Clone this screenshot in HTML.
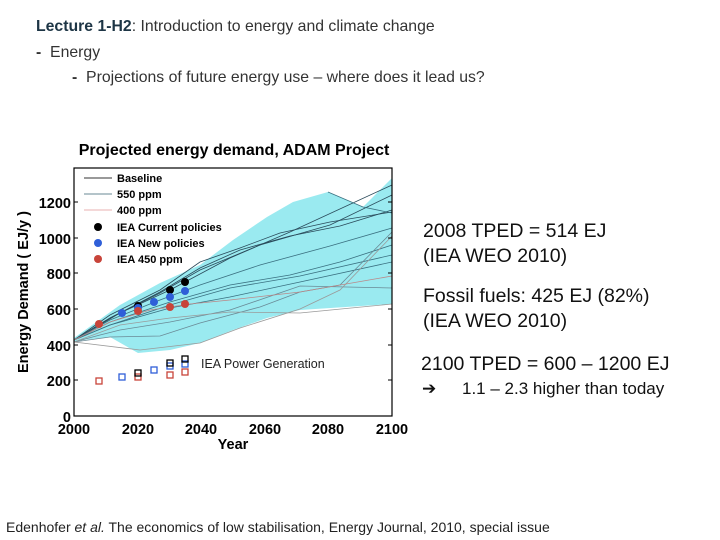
<!DOCTYPE html>
<html><head><meta charset="utf-8"><style>
body{margin:0;width:720px;height:540px;background:#fff;overflow:hidden;position:relative;font-family:"Liberation Sans",sans-serif}
.t{position:absolute;white-space:nowrap;color:#222}
</style></head><body>
<div class="t" style="left:36px;top:18px;font-size:15.8px;color:#333"><b style="color:#1d3545">Lecture 1-H2</b>: Introduction to energy and climate change</div>
<div class="t" style="left:36px;top:44px;font-size:15.8px;color:#333"><b>-</b>&nbsp; Energy</div>
<div class="t" style="left:72px;top:69px;font-size:15.8px;color:#333"><b>-</b>&nbsp; Projections of future energy use – where does it lead us?</div>
<svg width="720" height="540" style="position:absolute;left:0;top:0" font-family="Liberation Sans,sans-serif">
<text x="234" y="155" font-size="16" font-weight="bold" text-anchor="middle">Projected energy demand, ADAM Project</text>
<polygon fill="#9aeaf0" points="74,338 120,305 160,283 200,265 233,240 267,217 293,202 328,192 363,207 392,178 392,304 300,310 267,318 233,330 200,343 170,350 138,353 110,337 83,340 74,342"/>
<g fill="none" stroke-width="0.8">
<polyline stroke="#2a4a5a" points="74,340 110,315 160,290 200,262 240,248 280,233 330,222 392,212"/>
<polyline stroke="#2a4a5a" points="74,340 110,318 160,292 200,268 240,250 290,236 340,226 392,210"/>
<polyline stroke="#2a4a5a" points="74,340 110,318 160,293 200,270 260,245 330,225 392,195"/>
<polyline stroke="#2a4a5a" points="74,340 120,313 170,290 230,258 290,232 392,185"/>
<polyline stroke="#3a7080" points="74,340 110,320 160,300 200,285 260,265 330,246 392,228"/>
<polyline stroke="#3a7080" points="74,340 110,322 170,302 230,285 290,275 340,262 392,245"/>
<polyline stroke="#3a7080" points="74,340 110,325 170,305 230,288 300,276 392,255"/>
<polyline stroke="#3a7080" points="74,340 110,325 170,308 230,297 300,282 392,262"/>
<polyline stroke="#6a8a96" points="74,342 100,335 120,330 170,322 230,310 300,286 392,288"/>
<polyline stroke="#6a8a96" points="74,342 110,337 160,336 200,323 260,307 300,292 340,285 392,232"/>
<polyline stroke="#9a9a9a" points="74,342 120,325 170,318 230,312 300,313 392,304"/>
<polyline stroke="#9a9a9a" points="74,342 140,350 200,343 240,328 300,309 340,290 392,236"/>
<polyline stroke="#b88" points="74,340 110,322 150,310 190,304 230,300 300,292 392,276"/>
<polyline stroke="#3a7080" points="328,192 363,207 392,213"/>
</g>
<rect x="74" y="168" width="318" height="248" fill="none" stroke="#000" stroke-width="1.2"/>
<g stroke="#000" stroke-width="1">
<line x1="74" y1="202" x2="78" y2="202"/><line x1="74" y1="238" x2="78" y2="238"/><line x1="74" y1="273" x2="78" y2="273"/><line x1="74" y1="309" x2="78" y2="309"/><line x1="74" y1="345" x2="78" y2="345"/><line x1="74" y1="380" x2="78" y2="380"/>
<line x1="388" y1="202" x2="392" y2="202"/><line x1="388" y1="238" x2="392" y2="238"/><line x1="388" y1="273" x2="392" y2="273"/><line x1="388" y1="309" x2="392" y2="309"/><line x1="388" y1="345" x2="392" y2="345"/><line x1="388" y1="380" x2="392" y2="380"/>
</g>
<g font-size="14.5" font-weight="bold" text-anchor="end">
<text x="71" y="208">1200</text><text x="71" y="244">1000</text><text x="71" y="279">800</text><text x="71" y="315">600</text><text x="71" y="351">400</text><text x="71" y="386">200</text><text x="71" y="422">0</text>
</g>
<g font-size="14.5" font-weight="bold" text-anchor="middle">
<text x="74" y="434">2000</text><text x="138" y="434">2020</text><text x="201" y="434">2040</text><text x="265" y="434">2060</text><text x="328" y="434">2080</text><text x="392" y="434">2100</text>
<text x="233" y="449">Year</text>
<text transform="translate(28,292) rotate(-90)">Energy Demand ( EJ/y )</text>
</g>
<g font-size="11" font-weight="bold">
<line x1="84" y1="178" x2="112" y2="178" stroke="#333"/><text x="117" y="182">Baseline</text>
<line x1="84" y1="194" x2="112" y2="194" stroke="#6a8a96"/><text x="117" y="198">550 ppm</text>
<line x1="84" y1="210" x2="112" y2="210" stroke="#e8b0b0"/><text x="117" y="214">400 ppm</text>
<circle cx="98" cy="227" r="4" fill="#000"/><text x="117" y="231">IEA Current policies</text>
<circle cx="98" cy="243" r="4" fill="#2f5fd8"/><text x="117" y="247">IEA New policies</text>
<circle cx="98" cy="259" r="4" fill="#c8443a"/><text x="117" y="263">IEA 450 ppm</text>
</g>
<text x="201" y="368" font-size="12.5" fill="#222">IEA Power Generation</text>
<g>
<circle cx="138" cy="306" r="4" fill="#000"/><circle cx="170" cy="290" r="4" fill="#000"/><circle cx="185" cy="282" r="4" fill="#000"/>
<circle cx="122" cy="313" r="4" fill="#2f5fd8"/><circle cx="138" cy="308" r="4" fill="#2f5fd8"/><circle cx="154" cy="302" r="4" fill="#2f5fd8"/><circle cx="170" cy="297" r="4" fill="#2f5fd8"/><circle cx="185" cy="291" r="4" fill="#2f5fd8"/>
<circle cx="99" cy="324" r="4" fill="#c8443a"/><circle cx="138" cy="311" r="4" fill="#c8443a"/><circle cx="170" cy="307" r="4" fill="#c8443a"/><circle cx="185" cy="304" r="4" fill="#c8443a"/>
</g>
<g fill="none" stroke-width="1.3">
<rect x="96" y="378" width="6" height="6" stroke="#c8443a"/><rect x="135" y="374" width="6" height="6" stroke="#c8443a"/><rect x="167" y="372" width="6" height="6" stroke="#c8443a"/><rect x="182" y="369" width="6" height="6" stroke="#c8443a"/>
<rect x="119" y="374" width="6" height="6" stroke="#2f5fd8"/><rect x="151" y="367" width="6" height="6" stroke="#2f5fd8"/><rect x="167" y="363" width="6" height="6" stroke="#2f5fd8"/><rect x="182" y="361" width="6" height="6" stroke="#2f5fd8"/>
<rect x="135" y="370" width="6" height="6" stroke="#000"/><rect x="167" y="360" width="6" height="6" stroke="#000"/><rect x="182" y="356" width="6" height="6" stroke="#000"/>
</g>
</svg>
<div class="t" style="left:423px;top:219px;font-size:19.5px;line-height:25px;color:#111">2008 TPED = 514 EJ<br>(IEA WEO 2010)</div>
<div class="t" style="left:423px;top:284px;font-size:19.5px;line-height:25px;color:#111">Fossil fuels: 425 EJ (82%)<br>(IEA WEO 2010)</div>
<div class="t" style="left:421px;top:353px;font-size:19.5px;color:#111">2100 TPED = 600 – 1200 EJ</div>
<div class="t" style="left:422px;top:379px;font-size:17px;color:#111">➔<span style="position:absolute;left:40px;">1.1 – 2.3 higher than today</span></div>
<div class="t" style="left:6px;top:519px;font-size:14px;color:#222">Edenhofer <i>et al.</i> The economics of low stabilisation, Energy Journal, 2010, special issue</div>
</body></html>
